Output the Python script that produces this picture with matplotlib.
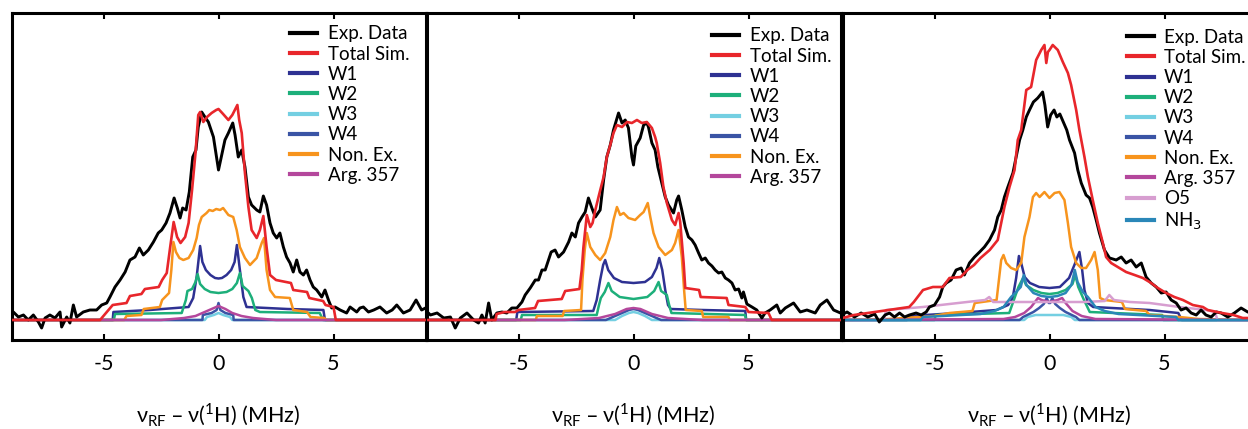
import matplotlib
matplotlib.use("Agg")
import matplotlib.pyplot as plt
from matplotlib.lines import Line2D

plt.rcParams['font.family'] = ['Lato', 'DejaVu Sans']
plt.rcParams['mathtext.fontset'] = 'dejavusans'

# ---------------- data: (offset MHz, intensity) ----------------
# Panel 1
p1_exp = [(-9.0, 0.08), (-8.92, 0.08), (-8.7, 0.03), (-8.48, 0.05), (-8.27, 0.0), (-8.05, 0.05),
          (-7.83, -0.02), (-7.69, -0.08), (-7.54, 0.02), (-7.33, 0.05), (-7.11, 0.02), (-6.89, 0.08),
          (-6.82, -0.07), (-6.6, 0.03), (-6.46, -0.03), (-6.31, 0.15), (-6.17, 0.03), (-5.88, 0.08),
          (-5.59, 0.10), (-5.3, 0.10), (-5.08, 0.15), (-4.86, 0.17), (-4.72, 0.23), (-4.5, 0.33),
          (-4.28, 0.40), (-4.06, 0.48), (-3.85, 0.60), (-3.63, 0.63), (-3.44, 0.72), (-3.27, 0.65),
          (-3.05, 0.70), (-2.83, 0.78), (-2.62, 0.87), (-2.47, 0.90), (-2.28, 0.97), (-2.11, 1.07),
          (-1.93, 1.22), (-1.79, 1.12), (-1.67, 1.02), (-1.56, 1.12), (-1.41, 1.10), (-1.27, 1.28),
          (-1.12, 1.63), (-0.98, 1.70), (-0.88, 1.93), (-0.73, 2.08), (-0.59, 2.03), (-0.44, 1.98),
          (-0.22, 1.83), (0.0, 1.50), (0.14, 1.65), (0.28, 1.80), (0.43, 1.87), (0.62, 1.97),
          (0.72, 1.85), (0.86, 1.63), (1.01, 1.70), (1.15, 1.53), (1.30, 1.23), (1.44, 1.15),
          (1.66, 1.10), (1.80, 1.08), (1.95, 1.24), (2.09, 1.15), (2.24, 0.97), (2.38, 0.87),
          (2.53, 0.82), (2.67, 0.87), (2.82, 0.73), (2.96, 0.63), (3.11, 0.57), (3.25, 0.48),
          (3.40, 0.60), (3.54, 0.48), (3.69, 0.45), (3.83, 0.50), (3.98, 0.40), (4.12, 0.33),
          (4.27, 0.30), (4.49, 0.23), (4.63, 0.30), (4.78, 0.20), (4.92, 0.12), (5.07, 0.13),
          (5.29, 0.10), (5.57, 0.07), (5.72, 0.13), (6.01, 0.08), (6.15, 0.12), (6.3, 0.13),
          (6.52, 0.08), (6.75, 0.10), (7.02, 0.13), (7.31, 0.07), (7.55, 0.10), (7.75, 0.15),
          (8.04, 0.07), (8.33, 0.10), (8.59, 0.20), (8.83, 0.10), (9.0, 0.12)]
p1_total = [(-9, 0), (-5.15, 0), (-4.6, 0.15), (-4.0, 0.17), (-3.85, 0.24), (-3.35, 0.26),
            (-3.2, 0.31), (-2.6, 0.33), (-2.45, 0.40), (-2.25, 0.47), (-2.1, 0.73), (-1.95, 0.98),
            (-1.8, 0.83), (-1.65, 0.77), (-1.45, 0.83), (-1.3, 0.97), (-1.15, 1.30), (-1.0, 1.67),
            (-0.88, 2.05), (-0.8, 2.08), (-0.66, 1.98), (-0.5, 2.03), (-0.3, 2.07), (-0.1, 2.10),
            (0.0, 2.11), (0.2, 2.06), (0.43, 2.0), (0.6, 2.05), (0.82, 2.15), (0.9, 2.0),
            (1.01, 1.87), (1.15, 1.47), (1.30, 1.13), (1.44, 0.90), (1.66, 0.82), (1.80, 0.90),
            (1.95, 1.04), (2.09, 0.73), (2.24, 0.45), (2.5, 0.40), (3.15, 0.37), (3.25, 0.30),
            (3.85, 0.28), (3.95, 0.22), (4.55, 0.19), (4.65, 0.15), (5.0, 0.13), (5.1, 0), (9, 0)]
p1_w1 = [(-9, 0), (-4.6, 0), (-4.57, 0.08), (-3, 0.10), (-1.3, 0.13), (-1.1, 0.22), (-0.95, 0.43),
         (-0.8, 0.74), (-0.7, 0.58), (-0.55, 0.50), (-0.35, 0.45), (-0.15, 0.42), (0, 0.415),
         (0.15, 0.42), (0.35, 0.45), (0.55, 0.50), (0.7, 0.58), (0.8, 0.75), (0.93, 0.50),
         (1.08, 0.23), (1.22, 0.13), (3, 0.11), (4.56, 0.10), (4.63, 0), (9, 0)]
p1_w2 = [(-9, 0), (-4.55, 0), (-4.5, 0.06), (-1.6, 0.07), (-1.42, 0.20), (-1.35, 0.29), (-1.15, 0.31),
         (-1.0, 0.38), (-0.91, 0.46), (-0.8, 0.36), (-0.6, 0.31), (-0.35, 0.28), (0, 0.27),
         (0.35, 0.28), (0.6, 0.31), (0.8, 0.37), (0.93, 0.47), (1.05, 0.34), (1.3, 0.29),
         (1.45, 0.22), (1.6, 0.10), (1.8, 0.08), (4.4, 0.07), (4.55, 0), (9, 0)]
p1_w3 = [(-9, 0), (-0.6, 0), (-0.5, 0.03), (-0.2, 0.05), (0, 0.07), (0.2, 0.05), (0.5, 0.03),
         (0.6, 0), (9, 0)]
p1_w4 = [(-9, 0), (-0.7, 0), (-0.68, 0.05), (-0.3, 0.07), (-0.08, 0.10), (0, 0.17), (0.08, 0.10),
         (0.3, 0.07), (0.64, 0.05), (0.66, 0), (9, 0)]
p1_nonex = [(-9, 0), (-4.1, 0), (-4.0, 0.04), (-3.35, 0.05), (-3.25, 0.11), (-2.55, 0.13),
            (-2.45, 0.20), (-2.15, 0.27), (-2.05, 0.50), (-1.96, 0.78), (-1.85, 0.68), (-1.7, 0.62),
            (-1.53, 0.60), (-1.3, 0.62), (-1.1, 0.70), (-0.95, 0.82), (-0.85, 0.95), (-0.73, 1.03),
            (-0.52, 1.07), (-0.4, 1.10), (-0.25, 1.09), (-0.1, 1.11), (0.07, 1.10), (0.2, 1.12),
            (0.43, 1.05), (0.64, 1.03), (0.79, 0.90), (0.93, 0.73), (1.15, 0.62), (1.37, 0.55),
            (1.66, 0.62), (1.88, 0.77), (1.98, 0.82), (2.09, 0.50), (2.24, 0.30), (2.46, 0.23),
            (3.1, 0.22), (3.25, 0.10), (3.85, 0.08), (4.0, 0.03), (4.6, 0.02), (4.7, 0), (9, 0)]
p1_arg = [(-9, 0), (-2.5, 0), (-1.5, 0.02), (-1.0, 0.04), (-0.6, 0.08), (-0.3, 0.11), (0, 0.14),
          (0.3, 0.11), (0.6, 0.07), (1.0, 0.04), (1.5, 0.02), (2.5, 0), (9, 0)]

# Panel 2
p2_exp = [(-9.05, 0.10), (-8.83, 0.05), (-8.54, 0.07), (-8.25, 0.02), (-7.96, 0.03), (-7.75, -0.08),
          (-7.53, 0.02), (-7.24, 0.07), (-6.95, 0.0), (-6.74, -0.03), (-6.59, 0.05), (-6.45, -0.03),
          (-6.3, 0.17), (-6.16, 0.0), (-5.94, 0.07), (-5.72, 0.08), (-5.51, 0.07), (-5.29, 0.12),
          (-5.07, 0.12), (-4.85, 0.18), (-4.71, 0.25), (-4.49, 0.32), (-4.27, 0.40), (-4.13, 0.40),
          (-3.98, 0.50), (-3.84, 0.50), (-3.58, 0.68), (-3.41, 0.70), (-3.26, 0.63), (-3.04, 0.68),
          (-2.82, 0.78), (-2.68, 0.87), (-2.53, 0.83), (-2.39, 0.97), (-2.24, 1.03), (-2.1, 1.08),
          (-1.96, 1.22), (-1.81, 1.12), (-1.66, 1.03), (-1.45, 1.10), (-1.30, 1.40), (-1.16, 1.63),
          (-1.01, 1.75), (-0.87, 1.90), (-0.65, 2.07), (-0.5, 1.97), (-0.36, 2.0), (-0.22, 1.92),
          (-0.07, 1.63), (0.0, 1.55), (0.10, 1.74), (0.29, 1.82), (0.44, 1.95), (0.58, 1.97),
          (0.65, 1.93), (0.80, 1.77), (0.94, 1.70), (1.06, 1.53), (1.23, 1.37), (1.38, 1.23),
          (1.52, 1.15), (1.74, 1.07), (1.88, 1.20), (1.96, 1.24), (2.1, 1.10), (2.25, 0.93),
          (2.39, 0.83), (2.54, 0.80), (2.68, 0.75), (2.83, 0.67), (2.97, 0.60), (3.12, 0.62),
          (3.26, 0.57), (3.41, 0.54), (3.55, 0.50), (3.7, 0.47), (3.84, 0.48), (3.99, 0.42),
          (4.13, 0.40), (4.28, 0.37), (4.42, 0.30), (4.57, 0.31), (4.71, 0.22), (4.78, 0.28),
          (4.93, 0.16), (5.15, 0.13), (5.36, 0.10), (5.58, 0.02), (5.72, 0.07), (5.94, 0.10),
          (6.23, 0.15), (6.38, 0.07), (6.6, 0.12), (6.96, 0.17), (7.25, 0.08), (7.54, 0.10),
          (7.9, 0.07), (8.12, 0.15), (8.41, 0.20), (8.7, 0.10), (9.0, 0.07)]
p2_total = [(-9, 0), (-6.0, 0), (-5.95, 0.06), (-5.6, 0.08), (-5.15, 0.08), (-5.0, 0.10),
            (-4.28, 0.12), (-4.15, 0.19), (-3.12, 0.21), (-2.97, 0.29), (-2.35, 0.31), (-2.25, 0.50),
            (-2.18, 0.72), (-2.03, 1.05), (-1.88, 0.93), (-1.78, 0.97), (-1.66, 1.10), (-1.5, 1.25),
            (-1.30, 1.43), (-1.16, 1.63), (-1.01, 1.75), (-0.87, 1.87), (-0.72, 1.95), (-0.5, 1.93),
            (-0.28, 1.98), (-0.07, 1.97), (0.15, 2.0), (0.36, 1.97), (0.58, 1.98), (0.8, 1.92),
            (0.94, 1.83), (1.01, 1.77), (1.16, 1.57), (1.30, 1.33), (1.45, 1.17), (1.67, 1.0),
            (1.81, 0.95), (1.96, 1.07), (2.03, 0.98), (2.18, 0.57), (2.25, 0.32), (2.85, 0.30),
            (2.92, 0.23), (4.05, 0.22), (4.13, 0.15), (4.86, 0.13), (5.0, 0.08), (5.87, 0.07),
            (6.01, 0), (9, 0)]
p2_w1 = [(-9, 0), (-5.1, 0), (-5.05, 0.08), (-1.75, 0.09), (-1.6, 0.20), (-1.45, 0.40), (-1.32, 0.55),
         (-1.23, 0.60), (-1.1, 0.50), (-0.85, 0.42), (-0.5, 0.38), (0, 0.37), (0.5, 0.38),
         (0.8, 0.43), (1.0, 0.52), (1.12, 0.62), (1.25, 0.50), (1.38, 0.30), (1.5, 0.15),
         (1.62, 0.11), (3, 0.10), (4.86, 0.09), (4.9, 0), (9, 0)]
p2_w2 = [(-9, 0), (-4.9, 0), (-4.85, 0.05), (-1.6, 0.05), (-1.5, 0.15), (-1.42, 0.22), (-1.25, 0.28),
         (-1.09, 0.37), (-0.95, 0.29), (-0.6, 0.23), (0, 0.21), (0.6, 0.23), (0.9, 0.29),
         (1.09, 0.38), (1.2, 0.29), (1.45, 0.25), (1.55, 0.15), (1.65, 0.07), (4.85, 0.05),
         (4.9, 0), (9, 0)]
p2_w3 = [(-9, 0), (-0.8, 0), (-0.5, 0.04), (-0.2, 0.07), (0, 0.08), (0.2, 0.07), (0.5, 0.04),
         (0.8, 0), (9, 0)]
p2_w4 = [(-9, 0), (-1.2, 0), (-1.0, 0.02), (-0.6, 0.06), (-0.2, 0.10), (0, 0.11), (0.2, 0.10),
         (0.6, 0.06), (1.0, 0.02), (1.2, 0), (9, 0)]
p2_nonex = [(-9, 0), (-4.25, 0), (-4.2, 0.04), (-3.08, 0.04), (-3.02, 0.09), (-2.28, 0.10),
            (-2.22, 0.40), (-2.12, 0.70), (-2.03, 0.87), (-1.88, 0.73), (-1.66, 0.65), (-1.45, 0.60),
            (-1.23, 0.67), (-1.01, 0.83), (-0.87, 1.0), (-0.72, 1.13), (-0.58, 1.05), (-0.43, 1.07),
            (-0.22, 1.02), (0.07, 1.0), (0.29, 1.05), (0.44, 1.08), (0.62, 1.17), (0.73, 1.03),
            (0.87, 0.87), (1.09, 0.73), (1.38, 0.65), (1.67, 0.70), (1.81, 0.77), (1.96, 0.90),
            (2.1, 0.63), (2.2, 0.30), (2.27, 0.10), (2.97, 0.09), (3.03, 0.03), (4.13, 0.03),
            (4.18, 0), (9, 0)]
p2_arg = [(-9, 0), (-3, 0), (-1.5, 0.02), (-0.8, 0.06), (-0.3, 0.11), (0, 0.12), (0.3, 0.11),
          (0.8, 0.06), (1.5, 0.02), (3, 0), (9, 0)]

# Panel 3
p3_exp = [(-9.05, 0.05), (-8.8, 0.08), (-8.48, 0.03), (-8.19, 0.07), (-7.9, 0.03), (-7.6, 0.06),
          (-7.4, -0.02), (-7.15, 0.05), (-6.96, 0.07), (-6.74, 0.03), (-6.52, 0.07), (-6.3, 0.03),
          (-6.09, 0.05), (-5.8, 0.07), (-5.58, 0.05), (-5.36, 0.08), (-5.22, 0.13), (-5.0, 0.15),
          (-4.78, 0.23), (-4.64, 0.33), (-4.49, 0.37), (-4.28, 0.40), (-4.06, 0.50), (-3.84, 0.52),
          (-3.70, 0.45), (-3.48, 0.57), (-3.26, 0.63), (-3.04, 0.68), (-2.83, 0.73), (-2.61, 0.80),
          (-2.39, 0.90), (-2.25, 1.03), (-2.1, 1.10), (-1.96, 1.23), (-1.81, 1.33), (-1.59, 1.47),
          (-1.45, 1.63), (-1.3, 1.80), (-1.16, 1.90), (-1.01, 2.03), (-0.87, 2.10), (-0.70, 2.18),
          (-0.51, 2.22), (-0.3, 2.28), (-0.2, 2.15), (-0.08, 1.93), (0.05, 2.05), (0.2, 2.10),
          (0.32, 2.03), (0.45, 2.06), (0.6, 1.98), (0.75, 1.90), (0.87, 1.80), (1.09, 1.67),
          (1.23, 1.50), (1.38, 1.37), (1.59, 1.25), (1.74, 1.22), (1.88, 1.13), (2.03, 1.0),
          (2.17, 0.87), (2.39, 0.70), (2.61, 0.62), (2.9, 0.60), (3.12, 0.63), (3.33, 0.57),
          (3.55, 0.60), (3.77, 0.53), (3.99, 0.57), (4.2, 0.43), (4.42, 0.37), (4.64, 0.33),
          (4.86, 0.27), (5.07, 0.28), (5.29, 0.20), (5.51, 0.17), (5.72, 0.10), (5.94, 0.12),
          (6.16, 0.07), (6.38, 0.05), (6.59, 0.10), (6.8, 0.05), (7.03, 0.03), (7.25, 0.08),
          (7.46, 0.07), (7.75, 0.03), (8.04, 0.07), (8.33, 0.12), (8.62, 0.08), (9.0, 0.06)]
p3_total = [(-9, 0.02), (-8.5, 0.05), (-7.0, 0.10), (-6.1, 0.13), (-5.9, 0.18), (-5.5, 0.30),
            (-5.07, 0.33), (-4.64, 0.33), (-4.35, 0.42), (-3.86, 0.43), (-3.57, 0.50), (-3.28, 0.55),
            (-3.0, 0.62), (-2.6, 0.70), (-2.25, 0.80), (-2.1, 0.97), (-1.96, 1.13), (-1.74, 1.33),
            (-1.52, 1.50), (-1.38, 1.80), (-1.23, 1.90), (-1.01, 2.30), (-0.8, 2.33), (-0.58, 2.60),
            (-0.36, 2.70), (-0.22, 2.75), (-0.14, 2.57), (-0.07, 2.68), (0.0, 2.70), (0.14, 2.75),
            (0.36, 2.70), (0.58, 2.58), (0.8, 2.47), (0.94, 2.35), (1.16, 2.10), (1.3, 1.90),
            (1.52, 1.63), (1.67, 1.43), (1.88, 1.20), (2.1, 0.97), (2.32, 0.77), (2.46, 0.63),
            (2.68, 0.57), (3.04, 0.52), (3.33, 0.48), (3.7, 0.45), (4.06, 0.42), (4.42, 0.37),
            (4.71, 0.32), (5.07, 0.27), (5.43, 0.23), (5.8, 0.20), (6.23, 0.15), (6.67, 0.13),
            (6.88, 0.10), (7.5, 0.07), (8.0, 0.05), (8.4, 0.02), (9, 0.02)]
p3_w1 = [(-9, 0), (-6.2, 0), (-6.1, 0.04), (-4, 0.07), (-2.3, 0.10), (-1.8, 0.15), (-1.6, 0.22),
         (-1.45, 0.42), (-1.33, 0.64), (-1.22, 0.56), (-1.08, 0.43), (-0.85, 0.37), (-0.45, 0.33),
         (0, 0.32), (0.45, 0.33), (0.85, 0.42), (1.1, 0.56), (1.3, 0.68), (1.42, 0.50),
         (1.52, 0.30), (1.67, 0.17), (1.9, 0.13), (4.35, 0.10), (5.6, 0.07), (5.75, 0), (9, 0)]
p3_w2 = [(-9, 0), (-5.0, 0), (-4.95, 0.05), (-1.75, 0.07), (-1.55, 0.20), (-1.35, 0.33),
         (-1.15, 0.42), (-1.02, 0.35), (-0.7, 0.30), (-0.35, 0.27), (0, 0.26), (0.35, 0.27),
         (0.7, 0.30), (1.0, 0.36), (1.12, 0.45), (1.25, 0.33), (1.5, 0.20), (1.75, 0.08),
         (4.9, 0.05), (4.95, 0), (9, 0)]
p3_w3 = [(-9, 0), (-1.1, 0), (-0.95, 0.03), (-0.6, 0.05), (0.6, 0.05), (0.95, 0.03), (1.1, 0), (9, 0)]
p3_w4 = [(-9, 0), (-1.3, 0), (-1.15, 0.03), (-0.7, 0.08), (-0.45, 0.12), (-0.25, 0.16),
         (-0.12, 0.22), (-0.03, 0.17), (0.03, 0.17), (0.12, 0.22), (0.25, 0.16), (0.45, 0.12),
         (0.7, 0.08), (1.15, 0.03), (1.3, 0), (9, 0)]
p3_nonex = [(-9, 0), (-7, 0.01), (-5, 0.04), (-4.35, 0.07), (-3.35, 0.09), (-3.25, 0.17),
            (-2.3, 0.20), (-2.2, 0.40), (-2.1, 0.60), (-2.0, 0.65), (-1.88, 0.57), (-1.67, 0.52),
            (-1.45, 0.50), (-1.23, 0.57), (-1.09, 0.83), (-0.87, 1.03), (-0.72, 1.23), (-0.58, 1.27),
            (-0.43, 1.23), (-0.22, 1.28), (0.0, 1.22), (0.22, 1.27), (0.43, 1.28), (0.65, 1.20),
            (0.80, 0.97), (0.94, 0.73), (1.16, 0.57), (1.38, 0.52), (1.59, 0.52), (1.81, 0.60),
            (1.96, 0.68), (2.1, 0.50), (2.2, 0.22), (2.39, 0.20), (3.15, 0.18), (3.28, 0.11),
            (4.2, 0.09), (4.35, 0.05), (5.65, 0.03), (6.5, 0.01), (9, 0)]
p3_arg = [(-9, 0), (-2.0, 0.01), (-1.5, 0.03), (-1.1, 0.07), (-0.8, 0.13), (-0.6, 0.19),
          (-0.5, 0.22), (-0.35, 0.20), (0, 0.18), (0.35, 0.20), (0.55, 0.22), (0.7, 0.17),
          (1.0, 0.09), (1.4, 0.04), (2.0, 0.01), (9, 0)]
p3_o5 = [(-9, 0), (-7.2, 0), (-7.1, 0.10), (-5.5, 0.13), (-4.35, 0.16), (-3.2, 0.19), (-2.8, 0.20),
         (-2.62, 0.23), (-2.45, 0.18), (-1.5, 0.18), (0, 0.18), (1.5, 0.18), (2.4, 0.19),
         (2.6, 0.25), (2.8, 0.20), (3.5, 0.18), (4.35, 0.17), (5.65, 0.13), (6.8, 0.10),
         (7.2, 0.08), (7.3, 0), (9, 0)]
p3_nh3 = [(-9, 0), (-5.6, 0), (-5.5, 0.03), (-3, 0.06), (-2.4, 0.09), (-2.0, 0.13), (-1.67, 0.23),
          (-1.45, 0.28), (-1.25, 0.33), (-1.12, 0.45), (-1.0, 0.35), (-0.7, 0.27), (-0.35, 0.24),
          (0, 0.23), (0.35, 0.24), (0.7, 0.27), (0.95, 0.35), (1.1, 0.50), (1.22, 0.38),
          (1.45, 0.28), (1.67, 0.23), (2.0, 0.13), (2.4, 0.09), (3, 0.06), (5.5, 0.03),
          (5.6, 0), (9, 0)]

labels = ["Exp. Data", "Total Sim.", "W1", "W2", "W3", "W4", "Non. Ex.", "Arg. 357", "O5", "NH$_3$"]
colors = ["black", "#e8262b", "#2e3192", "#1daf7a", "#74cfe2", "#3a54a5", "#f7941d", "#b4479c",
          "#d79ed0", "#2a87b8"]

panels = [
    [p1_exp, p1_total, p1_w1, p1_w2, p1_w3, p1_w4, p1_nonex, p1_arg],
    [p2_exp, p2_total, p2_w1, p2_w2, p2_w3, p2_w4, p2_nonex, p2_arg],
    [p3_exp, p3_total, p3_w1, p3_w2, p3_w3, p3_w4, p3_nonex, p3_arg, p3_o5, p3_nh3],
]
centers = [218.5, 633.5, 1049.5]      # pixel position of 0 MHz in each panel
leg_x = [0.673, 0.690, 0.686]
leg_y = [0.962, 0.956, 0.952]

W, H = 1248, 429
fig = plt.figure(figsize=(W / 100, H / 100), dpi=100)
axw = 414

for curves, c, lx, ly in zip(panels, centers, leg_x, leg_y):
    ax = fig.add_axes([(c - axw / 2) / W, (H - 340) / H, axw / W, 327 / H])
    handles = []
    for i, pts in enumerate(curves):
        xs = [p[0] for p in pts]
        ys = [p[1] for p in pts]
        if i == 0:
            z, lw = 3, 2.1
        elif i == 1:
            z, lw = 4, 1.9
        else:
            z, lw = 2, 1.8
        ax.plot(xs, ys, color=colors[i], lw=lw, zorder=z, solid_joinstyle='round')
        handles.append(Line2D([], [], color=colors[i], lw=3.0))
    ax.set_xlim(-9, 9)
    ax.set_ylim(-0.2, 3.07)
    ax.set_yticks([])
    ax.set_xticks([-5, 0, 5])
    ax.set_xticklabels(['-5', '0', '5'], fontsize=15.5)
    ax.tick_params(axis='x', direction='in', top=True, length=4, width=1.5, pad=10)
    for s in ax.spines.values():
        s.set_linewidth(2.2)
    ax.text(0.5, -0.23, 'ν$_{\\mathregular{RF}}$ – ν($^{\\mathregular{1}}$H) (MHz)',
            transform=ax.transAxes, ha='center', va='center', fontsize=15.5)
    ax.legend(handles, labels[:len(curves)], loc='upper left', bbox_to_anchor=(lx, ly),
              frameon=False, fontsize=13.5, handlelength=1.45, handletextpad=0.55,
              labelspacing=0.17, borderpad=0, borderaxespad=0)

fig.savefig("out.png", dpi=100)
